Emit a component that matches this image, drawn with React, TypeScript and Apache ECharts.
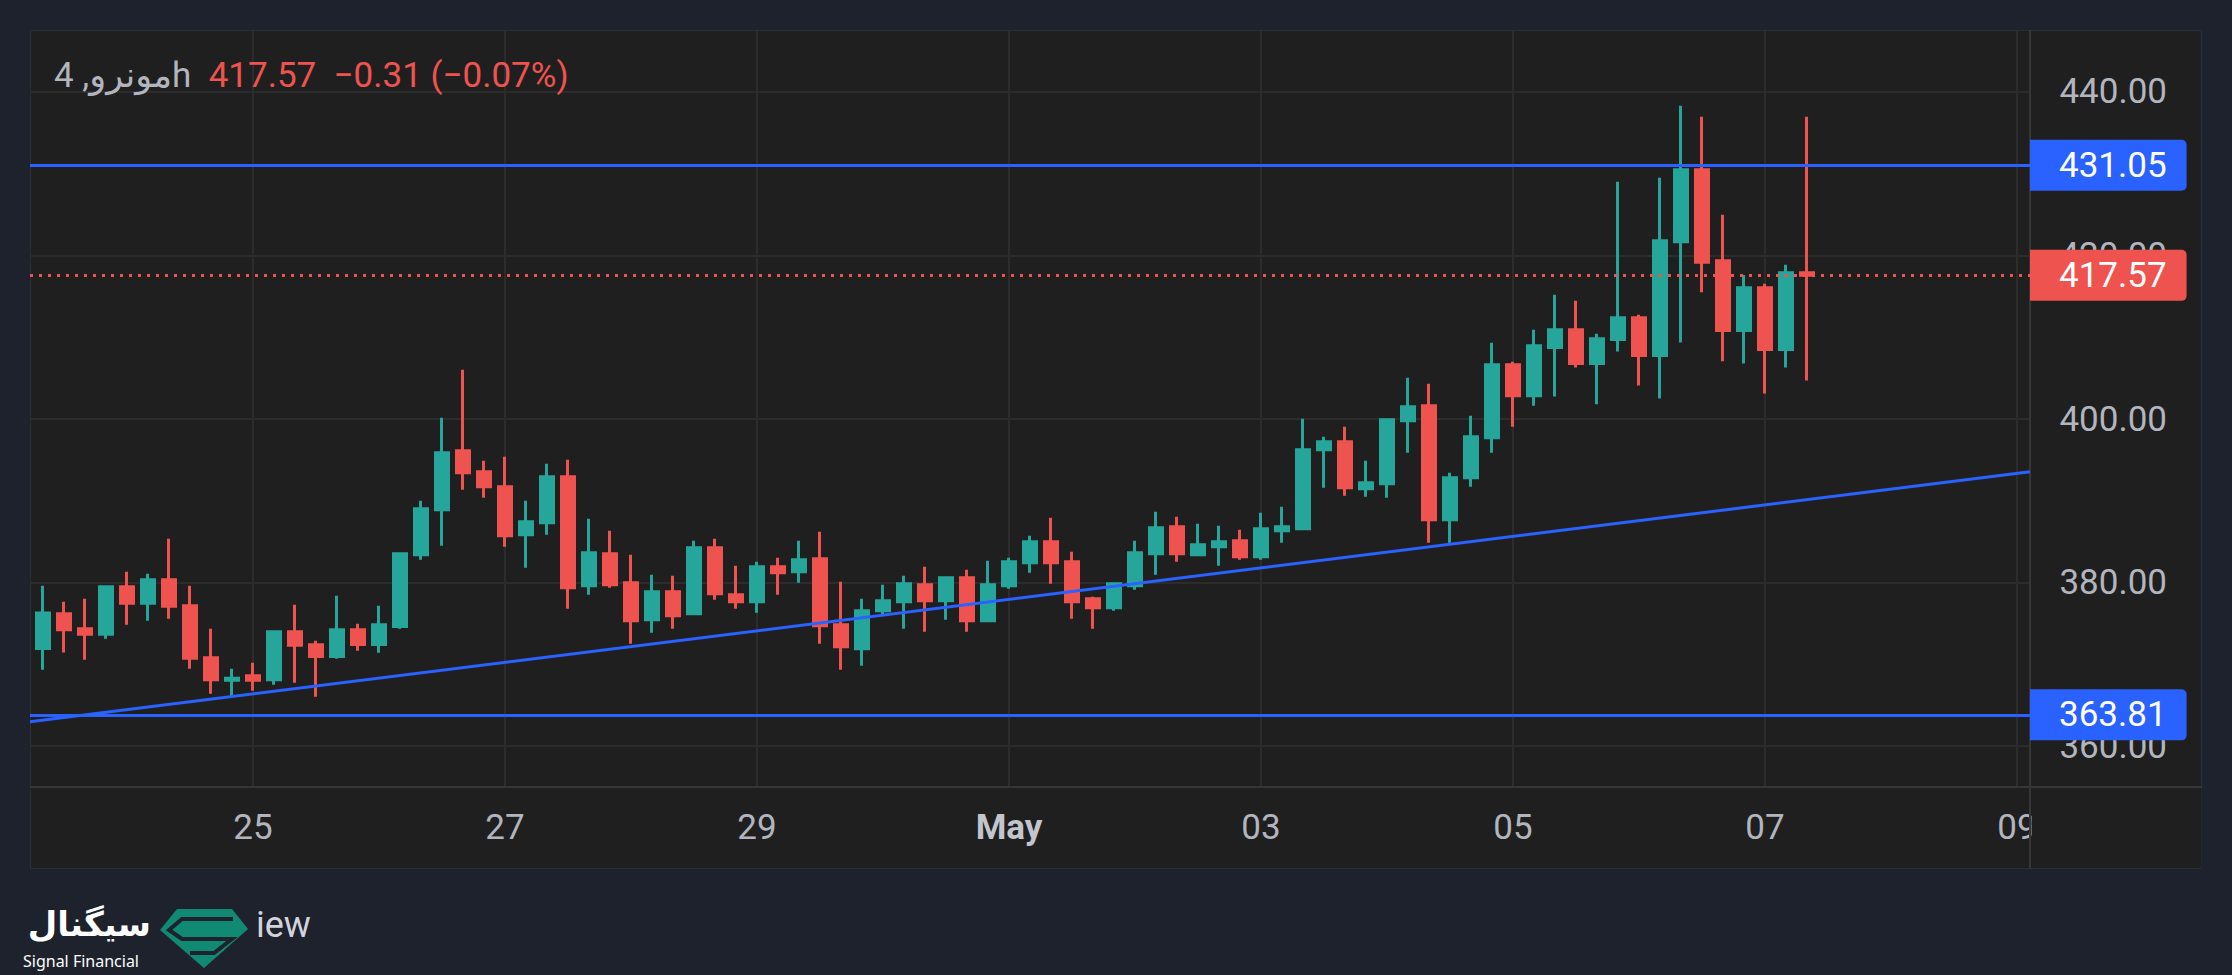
import React, { useEffect, useRef } from "react";
import * as echarts from "echarts";

// 4h candles; index 0 = 25 Apr 00:00, first candle = index -11
const firstIndex = -11;
const opens = [
  364.5, 371.94, 376.18, 374.35, 373.66, 379.49, 377.45, 380.34, 377.16, 370.8,
  368.03, 368.6, 368.11, 373.98, 372.39, 370.96, 374.23, 372.43, 374.63, 383.4,
  388.9, 396.12, 393.55, 391.72, 385.85, 387.32, 392.94, 379.61, 383.53, 379.98,
  375.45, 378.88, 376.19, 384.26, 378.51, 377.65, 381.93, 381.32, 382.91, 374.84,
  371.9, 376.55, 377.65, 379.73, 377.78, 380.59, 375.33, 379.61, 382.42, 384.99,
  382.55, 378.02, 376.92, 379.61, 383.53, 386.83, 383.4, 384.38, 385.12, 383.16,
  386.34, 386.58, 396.25, 397.23, 391.48, 392.09, 399.8, 401.63, 387.69, 392.82,
  397.72, 406.65, 402.85, 408.76, 410.92, 406.8, 409.74, 412.39, 407.78, 421.68,
  430.49, 419.36, 410.84, 416.06, 408.51, 417.88,
];
const highs = [
  374.0, 379.61, 377.65, 378.02, 379.61, 381.32, 381.08, 385.36, 379.61, 374.35,
  369.46, 370.19, 374.1, 377.28, 372.88, 378.39, 374.96, 377.16, 383.64, 390.01,
  400.16, 406.03, 394.9, 395.39, 390.01, 394.53, 395.02, 387.81, 386.34, 383.4,
  380.96, 380.83, 385.12, 385.36, 382.06, 382.55, 383.04, 385.12, 386.22, 380.1,
  378.02, 379.73, 380.83, 381.93, 380.59, 381.57, 382.67, 383.04, 385.73, 387.93,
  383.77, 378.27, 379.98, 385.12, 388.66, 388.05, 387.2, 386.95, 386.46, 388.54,
  389.28, 400.04, 397.84, 399.06, 394.9, 400.04, 405.06, 404.32, 393.43, 400.41,
  409.34, 407.01, 410.93, 415.2, 414.47, 410.43, 429.02, 412.75, 429.51, 438.32,
  436.97, 424.99, 417.61, 416.55, 418.87, 436.97,
];
const lows = [
  363.5, 369.33, 371.45, 370.56, 373.13, 374.84, 375.33, 375.57, 369.46, 366.4,
  366.03, 366.76, 367.5, 367.74, 366.03, 370.68, 371.66, 371.41, 374.35, 382.79,
  384.5, 391.35, 390.37, 384.38, 381.81, 385.85, 376.8, 378.51, 379.37, 372.52,
  373.86, 374.35, 376.06, 377.9, 376.8, 376.31, 378.51, 379.98, 372.52, 369.34,
  369.82, 375.94, 374.35, 373.98, 375.45, 373.98, 375.33, 379.24, 381.2, 379.86,
  375.58, 374.35, 376.55, 379.12, 380.96, 382.55, 383.28, 382.06, 382.79, 382.79,
  384.87, 386.58, 391.6, 390.62, 390.5, 390.38, 395.88, 384.87, 384.87, 391.72,
  395.88, 399.06, 401.63, 402.76, 406.31, 401.79, 408.27, 404.11, 402.52, 409.37,
  415.49, 407.05, 406.8, 403.13, 406.31, 404.72,
];
const closes = [
  372.0, 376.27, 374.23, 373.66, 379.49, 377.45, 380.34, 377.08, 370.72, 368.11,
  368.28, 368.03, 373.98, 372.31, 370.96, 374.23, 372.43, 374.84, 383.52, 389.03,
  395.88, 393.43, 391.72, 385.72, 387.44, 392.94, 379.37, 383.65, 379.73, 375.33,
  378.88, 375.94, 384.26, 378.63, 377.65, 381.93, 381.2, 382.79, 374.72, 372.15,
  376.55, 377.78, 379.86, 377.78, 380.59, 375.33, 379.73, 382.55, 384.99, 382.43,
  377.66, 376.92, 379.86, 383.65, 386.71, 383.53, 384.63, 384.99, 383.16, 386.58,
  386.83, 396.25, 397.23, 391.6, 392.21, 399.92, 401.51, 387.69, 392.82, 397.84,
  406.65, 402.85, 408.97, 410.92, 406.8, 409.82, 412.39, 407.78, 421.81, 430.49,
  419.16, 410.84, 416.06, 408.51, 417.88, 417.57,
];

const dateTickIndex = [0, 12, 24, 36, 48, 60, 72, 84];
const dateTickLabels = ["25", "27", "29", "May", "03", "05", "07", "09"];
const priceTicks = [360, 380, 400, 420, 440];
const levelLines = [431.05, 363.81];
const lastPrice = 417.57;
const trendPoints = [
  [-10.62, 362.98],
  [84.62, 393.54],
];
const titleSymbol = "مونرو, 4h";
const titleQuote = "417.57  −0.31 (−0.07%)";

const FONT = "Roboto, 'Noto Sans', 'DejaVu Sans', sans-serif";
const UP = "#26a69a";
const DOWN = "#ef5350";
const BLUE = "#2962ff";
const PANEL = "#1f1f1f";
const GRIDC = "#2c2c2c";
const SEP = "#363636";
const TXT = "#b2b5be";

export default function App() {
  const ref = useRef<HTMLDivElement>(null);
  useEffect(() => {
    document.body.style.margin = "0";
    const chart = echarts.init(ref.current!, null, { renderer: "svg" });
    const candleData = opens.map((o, k) => [k + firstIndex, o, closes[k], lows[k], highs[k]]);
    const badge = (bg: string) => ({
      show: true,
      position: "end",
      distance: 0,
      formatter: (p: any) => Number(p.value).toFixed(2),
      color: "#ffffff",
      fontFamily: FONT,
      fontSize: 35,
      fontWeight: "normal",
      lineHeight: 35,
      backgroundColor: bg,
      padding: [8, 20, 8, 29],
      borderRadius: [0, 5, 5, 0],
    });
    const option: any = {
      animation: false,
      backgroundColor: "transparent",
      title: {
        left: 54,
        top: 55,
        padding: 0,
        text: `{a|${titleSymbol}}  {b|${titleQuote}}`,
        textStyle: {
          fontWeight: "normal",
          fontSize: 35,
          fontFamily: FONT,
          rich: {
            a: { color: TXT, fontSize: 35, lineHeight: 40, fontWeight: "normal", fontFamily: FONT },
            b: { color: DOWN, fontSize: 35, lineHeight: 40, fontWeight: "normal", fontFamily: FONT },
          },
        },
      },
      grid: { left: 30, right: 202, top: 30, bottom: 188, containLabel: false, outerBoundsMode: "none" },
      xAxis: {
        type: "value",
        min: -10.62,
        max: 84.62,
        axisLine: { show: false },
        axisTick: { show: false, customValues: dateTickIndex },
        splitLine: { show: true, lineStyle: { color: GRIDC, width: 2 } },
        axisLabel: {
          customValues: dateTickIndex,
          margin: 23,
          formatter: (v: number) => {
            const s = dateTickLabels[dateTickIndex.indexOf(v)] ?? "";
            return s === "May" ? `{m|${s}}` : `{n|${s}}`;
          },
          rich: {
            m: { fontSize: 35, lineHeight: 35, fontWeight: "bold", color: "#c3c5cd", fontFamily: FONT },
            n: { fontSize: 35, lineHeight: 35, color: TXT, fontFamily: FONT },
          },
        },
      },
      yAxis: {
        type: "value",
        position: "right",
        min: 354.985,
        max: 447.584,
        axisLine: { show: false },
        axisTick: { show: false, customValues: priceTicks },
        splitLine: { show: true, lineStyle: { color: GRIDC, width: 2 } },
        axisLabel: {
          customValues: priceTicks,
          formatter: (v: number) => v.toFixed(2),
          align: "right",
          margin: 137,
          color: TXT,
          fontSize: 35,
          fontFamily: FONT,
        },
      },
      graphic: {
        elements: [
          {
            type: "rect",
            silent: true,
            z: -100,
            shape: { x: 30.5, y: 30.5, width: 2171, height: 838 },
            style: { fill: PANEL, stroke: "#2a2e39", lineWidth: 1 },
          },
          {
            type: "rect",
            silent: true,
            z: 50,
            shape: { x: 2031.5, y: 789, width: 170, height: 79 },
            style: { fill: PANEL },
          },
          {
            type: "line",
            silent: true,
            z: 1,
            shape: { x1: 2030, y1: 30, x2: 2030, y2: 869 },
            style: { stroke: SEP, lineWidth: 2 },
          },
          {
            type: "line",
            silent: true,
            z: 1,
            shape: { x1: 30, y1: 787, x2: 2202, y2: 787 },
            style: { stroke: SEP, lineWidth: 2 },
          },
          // logo
          {
            type: "polygon",
            silent: true,
            z: 10,
            shape: { points: [[160, 930], [177, 909], [232, 909], [248, 929], [204, 968]] },
            style: { fill: "#118a74" },
          },
          {
            type: "polyline",
            silent: true,
            z: 11,
            shape: { points: [[233, 919], [182, 919], [169, 930], [182, 939], [232, 939], [214, 953], [190, 953]] },
            style: { stroke: "#1e222d", lineWidth: 4, fill: null },
          },
          {
            type: "text",
            silent: true,
            z: 10,
            style: {
              x: 151, y: 924, text: "سیگنال", fill: "#ffffff", fontSize: 34, fontWeight: "bold",
              fontFamily: "'DejaVu Sans', sans-serif", align: "right", verticalAlign: "middle",
            },
          },
          {
            type: "text",
            silent: true,
            z: 10,
            style: {
              x: 23, y: 961, text: "Signal Financial", fill: "#ffffff", fontSize: 16,
              fontFamily: "'Noto Sans', sans-serif", align: "left", verticalAlign: "middle",
            },
          },
          {
            type: "text",
            silent: true,
            z: 10,
            style: {
              x: 256, y: 925, text: "iew", fill: "#d1d4dc", fontSize: 36,
              fontFamily: FONT, align: "left", verticalAlign: "middle",
            },
          },
        ],
      },
      series: [
        {
          type: "candlestick",
          data: candleData,
          encode: { x: 0, y: [1, 2, 3, 4] },
          barWidth: 14,
          clip: true,
          itemStyle: {
            color: UP,
            color0: DOWN,
            borderColor: UP,
            borderColor0: DOWN,
            borderWidth: 3,
          },
        },
        {
          type: "line",
          data: trendPoints,
          symbol: "none",
          clip: true,
          z: 3,
          lineStyle: { color: BLUE, width: 3 },
          markLine: {
            silent: true,
            symbol: "none",
            animation: false,
            data: [
              ...levelLines.map((v) => ({
                yAxis: v,
                lineStyle: { color: BLUE, width: 3, type: "solid" },
                label: badge(BLUE),
              })),
              {
                yAxis: lastPrice,
                lineStyle: { color: DOWN, width: 3, type: [3, 6] },
                label: badge(DOWN),
              },
            ],
          },
        },
      ],
    };
    chart.setOption(option);
    return () => chart.dispose();
  }, []);
  return (
    <div
      ref={ref}
      style={{ position: "fixed", left: 0, top: 0, width: 2232, height: 975, background: "#1e222d" }}
    />
  );
}
